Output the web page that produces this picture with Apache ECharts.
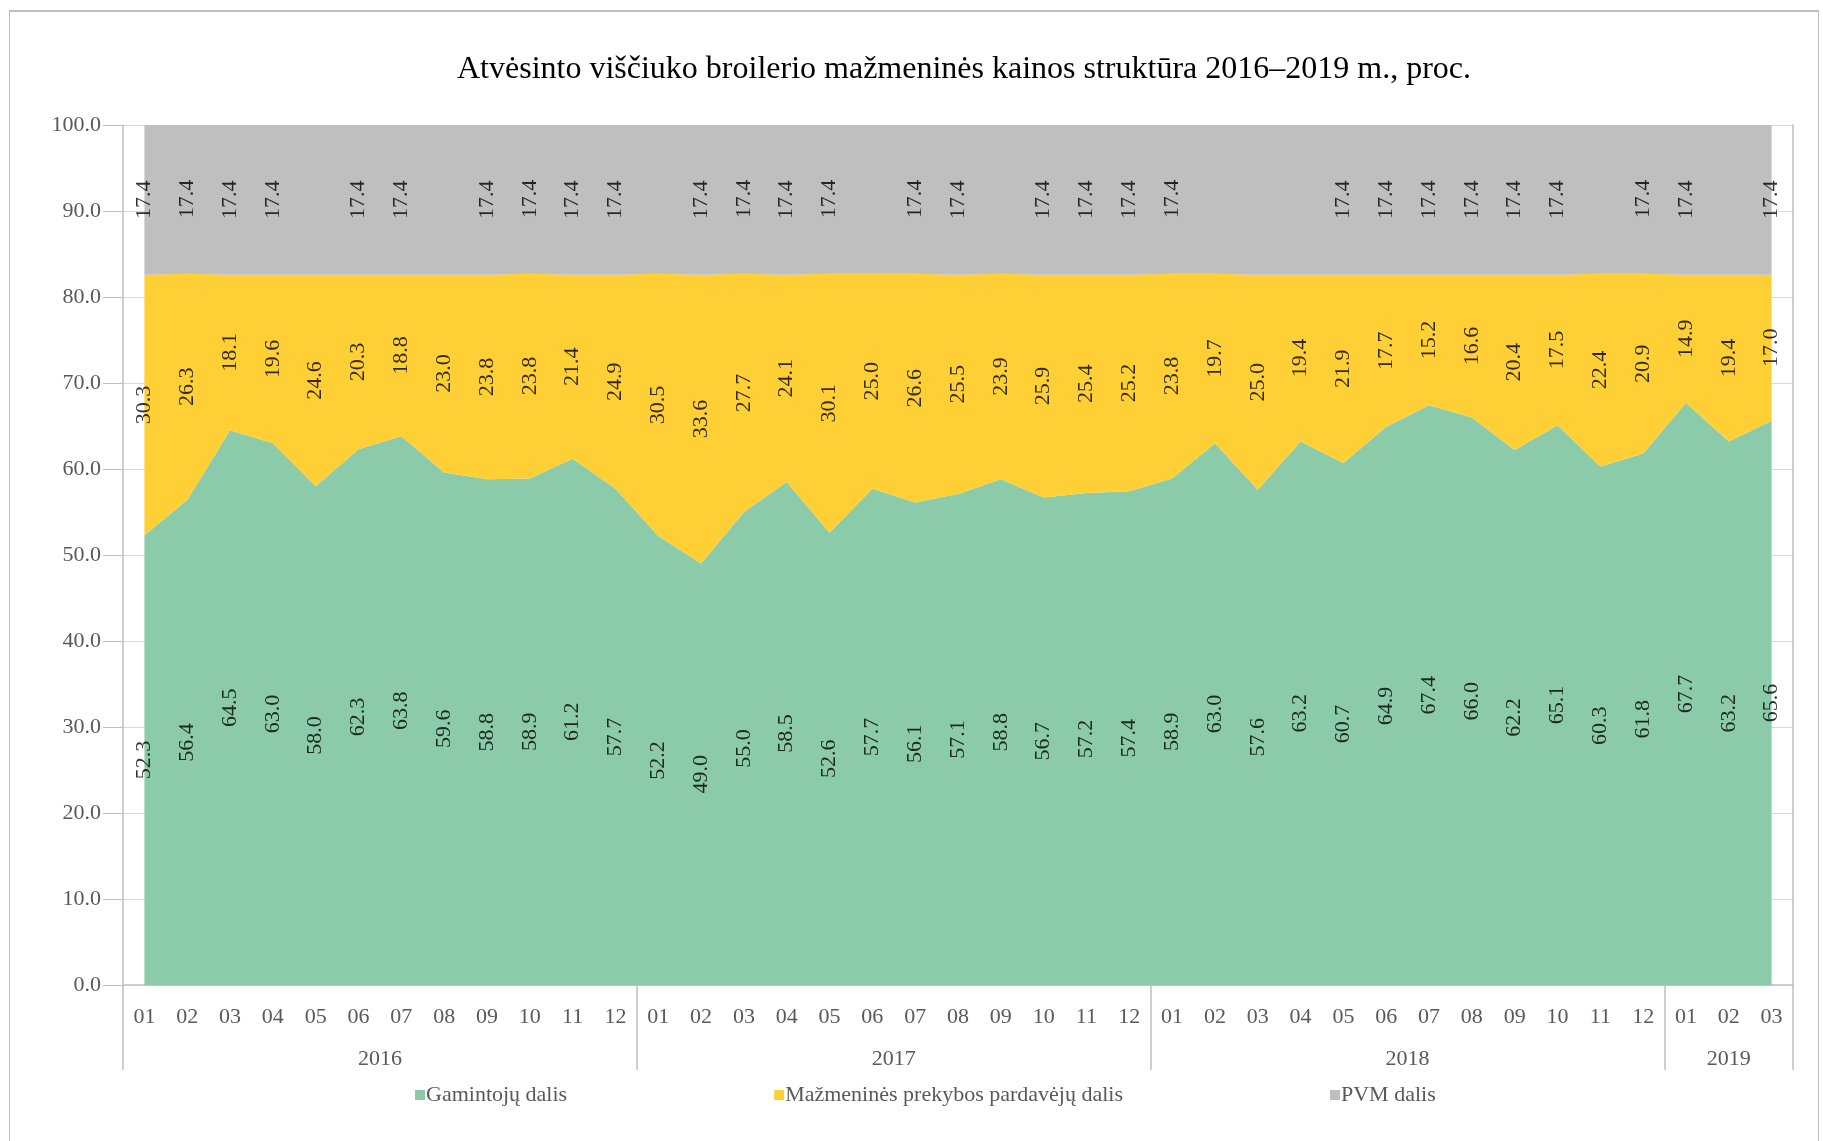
<!DOCTYPE html>
<html>
<head>
<meta charset="utf-8">
<title>Atvėsinto viščiuko broilerio mažmeninės kainos struktūra</title>
<script src="https://cdn.jsdelivr.net/npm/echarts@6/dist/echarts.min.js"></script>
<style>
  html, body { margin: 0; padding: 0; background: #fff; }
  #frame {
    position: absolute; left: 9px; top: 10px; width: 1808px; height: 1140px;
    border: 1px solid #bfbfbf; border-top: 2px solid #bfbfbf; border-bottom: none;
  }
  #chart { position: absolute; left: 0; top: 0; width: 1823px; height: 1141px; }
</style>
</head>
<body>
<div id="frame"></div>
<div id="chart"></div>
<script>
const months = [
  '01', '02', '03', '04', '05', '06', '07', '08', '09', '10', '11', '12',
  '01', '02', '03', '04', '05', '06', '07', '08', '09', '10', '11', '12',
  '01', '02', '03', '04', '05', '06', '07', '08', '09', '10', '11', '12',
  '01', '02', '03'
]
const years = ['2016', '2017', '2018', '2019']
const monthsPerYear = [12, 12, 12, 3]

const producerShare = [
  52.3, 56.4, 64.5, 63.0, 58.0, 62.3, 63.8, 59.6, 58.8, 58.9, 61.2, 57.7,
  52.2, 49.0, 55.0, 58.5, 52.6, 57.7, 56.1, 57.1, 58.8, 56.7, 57.2, 57.4,
  58.9, 63.0, 57.6, 63.2, 60.7, 64.9, 67.4, 66.0, 62.2, 65.1, 60.3, 61.8,
  67.7, 63.2, 65.6
]
const retailShare = [
  30.3, 26.3, 18.1, 19.6, 24.6, 20.3, 18.8, 23.0, 23.8, 23.8, 21.4, 24.9,
  30.5, 33.6, 27.7, 24.1, 30.1, 25.0, 26.6, 25.5, 23.9, 25.9, 25.4, 25.2,
  23.8, 19.7, 25.0, 19.4, 21.9, 17.7, 15.2, 16.6, 20.4, 17.5, 22.4, 20.9,
  14.9, 19.4, 17.0
]
const vatShare = [
  17.4, 17.4, 17.4, 17.4, 17.4, 17.4, 17.4, 17.4, 17.4, 17.4, 17.4, 17.4,
  17.4, 17.4, 17.4, 17.4, 17.4, 17.4, 17.4, 17.4, 17.4, 17.4, 17.4, 17.4,
  17.4, 17.4, 17.4, 17.4, 17.4, 17.4, 17.4, 17.4, 17.4, 17.4, 17.4, 17.4,
  17.4, 17.4, 17.4
]
// PVM labels that are not shown in the original
const vatLabelHidden = [4, 7, 12, 17, 20, 25, 26, 27, 34, 37]

const seriesNames = ['Gamintojų dalis', 'Mažmeninės prekybos pardavėjų dalis', 'PVM dalis']
const colors = ['#8ccba9', '#ffcf36', '#bfbfbf']

const FONT = '"Liberation Serif", "Times New Roman", serif'
const FONT_SIZE = 22
const AXIS_COLOR = '#bfbfbf'
const TEXT_COLOR = '#595959'

// year axis: half-band positions, label at centre of each year
const yearAxisData = new Array(months.length * 2 + 1).fill('')
let start = 0
years.forEach((y, i) => {
  yearAxisData[start * 2 + monthsPerYear[i]] = y
  start += monthsPerYear[i]
})

const layers = [producerShare, retailShare, vatShare]

const areaSeries = layers.map((vals, k) => ({
  name: seriesNames[k],
  type: 'line',
  stack: 'total',
  data: vals,
  symbol: 'none',
  lineStyle: { width: 0 },
  areaStyle: { color: colors[k], opacity: 1 },
  itemStyle: { color: colors[k] },
  z: 2
}))

// labels centred vertically inside each layer
const labelSeries = layers.map((vals, k) => ({
  name: seriesNames[k] + ' label',
  type: 'scatter',
  symbolSize: 1,
  itemStyle: { color: 'transparent' },
  silent: true,
  z: 5,
  label: {
    show: true,
    position: 'inside',
    rotate: 90,
    color: '#000',
    fontFamily: FONT,
    fontSize: FONT_SIZE,
    formatter: p => p.value[2].toFixed(1)
  },
  data: vals.map((v, i) => {
    let base = 0
    for (let j = 0; j < k; j++) base += layers[j][i]
    const item = { value: [i, base + v / 2, v] }
    if (k === 2 && vatLabelHidden.includes(i)) item.label = { show: false }
    return item
  })
}))

const chart = echarts.init(document.getElementById('chart'))
chart.setOption({
  backgroundColor: 'transparent',
  animation: false,
  title: {
    text: 'Atvėsinto viščiuko broilerio mažmeninės kainos struktūra 2016–2019 m., proc.',
    left: 959,
    textAlign: 'center',
    top: 49,
    textStyle: { fontFamily: FONT, fontSize: 32, fontWeight: 'normal', color: '#000' }
  },
  legend: {
    data: seriesNames,
    bottom: 30,
    left: 410,
    itemGap: 207,
    itemWidth: 10,
    itemHeight: 10,
    icon: 'rect',
    textStyle: { fontFamily: FONT, fontSize: FONT_SIZE, color: TEXT_COLOR, padding: [0, 0, 0, -4] }
  },
  grid: { left: 123, right: 30, top: 125, bottom: 156 },
  xAxis: [
    {
      type: 'category',
      data: months,
      boundaryGap: true,
      axisLine: { lineStyle: { color: AXIS_COLOR, width: 1.5 } },
      axisTick: {
        show: true,
        length: 85,
        interval: i => i % 12 === 0,
        lineStyle: { color: AXIS_COLOR, width: 1.5 }
      },
      axisLabel: { interval: 0, margin: 21, color: TEXT_COLOR, fontFamily: FONT, fontSize: FONT_SIZE }
    },
    {
      type: 'category',
      data: yearAxisData,
      boundaryGap: false,
      position: 'bottom',
      axisLine: { show: false },
      axisTick: { show: false },
      axisLabel: { interval: 0, margin: 63, color: TEXT_COLOR, fontFamily: FONT, fontSize: FONT_SIZE }
    }
  ],
  yAxis: [
    {
      type: 'value',
      min: 0,
      max: 100,
      interval: 10,
      axisLine: { show: true, lineStyle: { color: AXIS_COLOR, width: 1.5 } },
      axisTick: { show: true, length: 20, lineStyle: { color: AXIS_COLOR } },
      axisLabel: {
        margin: 22,
        color: TEXT_COLOR,
        fontFamily: FONT,
        fontSize: FONT_SIZE,
        formatter: v => v.toFixed(1)
      },
      splitLine: { show: true, lineStyle: { color: '#d9d9d9' } }
    },
    {
      type: 'value',
      min: 0,
      max: 100,
      interval: 10,
      position: 'right',
      axisLine: { show: true, lineStyle: { color: AXIS_COLOR, width: 1.5 } },
      axisTick: { show: false },
      axisLabel: { show: false },
      splitLine: { show: false }
    }
  ],
  series: [...areaSeries, ...labelSeries]
})
</script>
</body>
</html>
